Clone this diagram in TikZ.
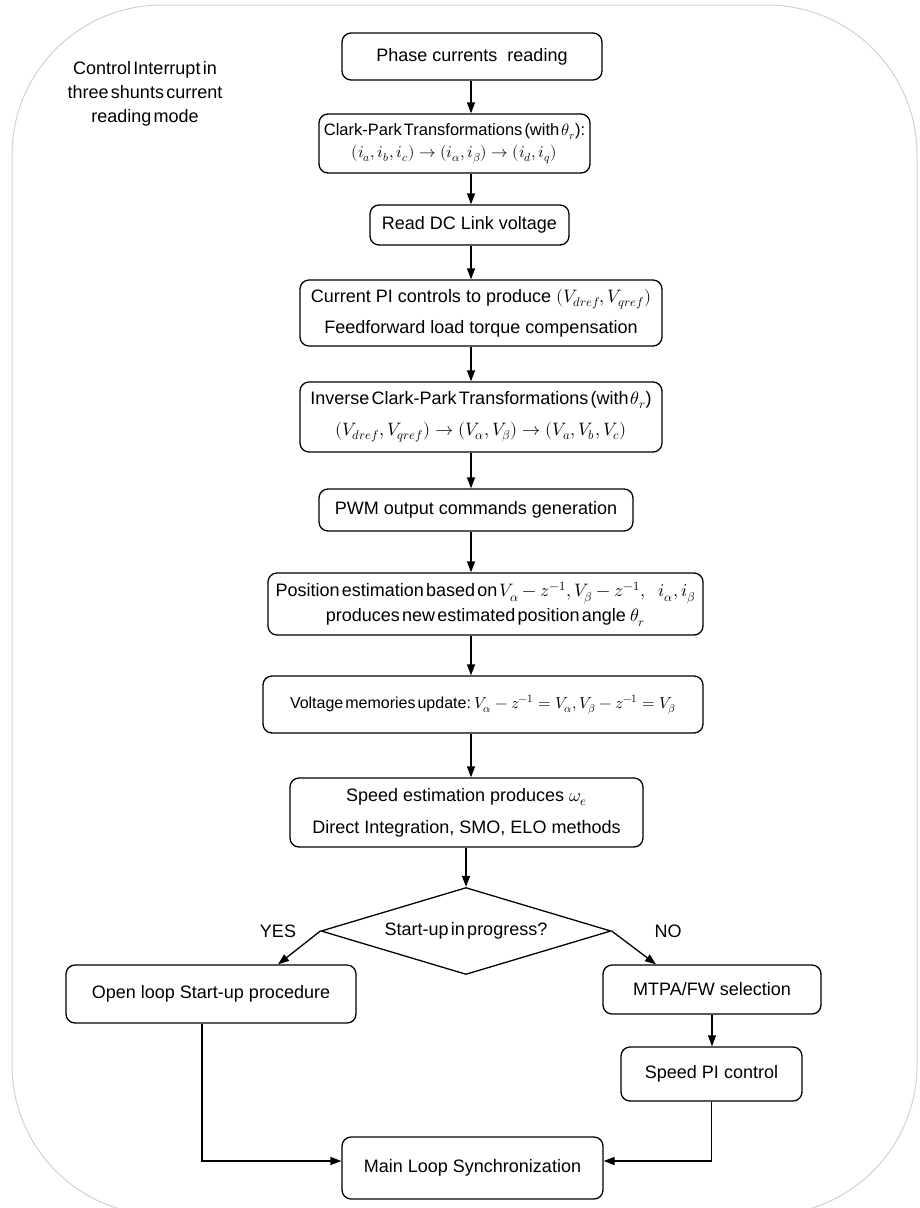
\documentclass[tikz,border=0pt]{standalone}
\usepackage{fontspec}
\usepackage{unicode-math}
\setmainfont{Liberation Sans}
\setmathfont{Latin Modern Math}
\newfontfamily\tightf[WordSpace=0.45]{Liberation Sans}
\usetikzlibrary{arrows.meta,shapes.geometric}
\begin{document}
\begin{tikzpicture}[x=1pt,y=-1pt,
  box/.style={draw, line width=1.3pt, rounded corners=9pt, inner sep=0pt, align=center, font=\fontsize{18}{24}\selectfont},
  arr/.style={line width=1.3pt, -{Triangle[length=11pt,width=8pt]}},
  lbl/.style={inner sep=0pt, align=center, font=\fontsize{18}{24}\selectfont}]
\useasboundingbox (0,0) rectangle (919,1208);
\begin{scope}
  \clip (0,0) rectangle (919,1208);
  \draw[black!18, line width=1pt, rounded corners=150pt] (12,5) rectangle (917,1215);
\end{scope}

\node[lbl, font=\fontsize{18}{24}\selectfont\tightf] (ctl) at (145,94) {Control Interrupt in\\three shunts current\\reading mode};

\node[box, minimum width=260pt, minimum height=47pt] (b1) at (472,56.5) {Phase currents\ \ reading};
\node[box, minimum width=271pt, minimum height=59pt, font=\fontsize{16.5}{22}\selectfont\tightf] (b2) at (454.5,143.5)
  {Clark-Park Transformations (with $\theta_r$):\\ $(i_a, i_b, i_c) \rightarrow (i_\alpha, i_\beta) \rightarrow (i_d, i_q)$};
\node[box, minimum width=199pt, minimum height=40pt] (b3) at (469.5,225) {Read DC Link voltage};
\node[box, minimum width=362pt, minimum height=66pt, font=\fontsize{18}{31}\selectfont] (b4) at (481,313)
  {Current PI controls to produce $(V_{dref}, V_{qref})$\\ Feedforward load torque compensation};
\node[box, minimum width=362pt, minimum height=70pt, font=\fontsize{18}{31}\selectfont\tightf] (b5) at (481,417)
  {Inverse Clark-Park Transformations (with $\theta_r$)\\ $(V_{dref}, V_{qref}) \rightarrow (V_\alpha, V_\beta) \rightarrow (V_a, V_b, V_c)$};
\node[box, minimum width=314pt, minimum height=42pt] (b6) at (476,510) {PWM output commands generation};
\node[box, minimum width=435pt, minimum height=62pt, font=\fontsize{18}{25}\selectfont\tightf] (b7) at (485.5,604)
  {Position estimation based on $V_\alpha - z^{-1}, V_\beta - z^{-1},\;\; i_\alpha, i_\beta$\\ produces new estimated position angle\ \ $\theta_r$};
\node[box, minimum width=440pt, minimum height=57pt, font=\fontsize{16}{22}\selectfont\tightf] (b8) at (483,704.5)
  {Voltage memories update: $V_\alpha - z^{-1} = V_\alpha, V_\beta - z^{-1} = V_\beta$};
\node[box, minimum width=353pt, minimum height=69pt, font=\fontsize{18}{32}\selectfont] (b9) at (466.5,812.5)
  {Speed estimation produces $\omega_e$\\ Direct Integration, SMO, ELO methods};

\node[draw, diamond, aspect=3.3, minimum width=290pt, minimum height=87pt, inner sep=0pt, line width=1.3pt,
  font=\fontsize{18}{24}\selectfont\tightf] (dia) at (466,931) {Start-up in progress?};
\node[lbl] (yes) at (278,931) {YES};
\node[lbl] (no) at (668,931) {NO};

\node[box, minimum width=290pt, minimum height=58pt] (open) at (211,994) {Open loop Start-up procedure};
\node[box, minimum width=218pt, minimum height=49pt] (mtpa) at (712,989.5) {MTPA/FW selection};
\node[box, minimum width=181pt, minimum height=54pt] (spi) at (711.5,1074) {Speed PI control};
\node[box, minimum width=261pt, minimum height=62pt] (main) at (472.5,1168) {Main Loop Synchronization};

\coordinate (col) at (471,0);
\draw[arr] (b1.south -| col) -- (b2.north -| col);
\draw[arr] (b2.south -| col) -- (b3.north -| col);
\draw[arr] (b3.south -| col) -- (b4.north -| col);
\draw[arr] (b4.south -| col) -- (b5.north -| col);
\draw[arr] (b5.south -| col) -- (b6.north -| col);
\draw[arr] (b6.south -| col) -- (b7.north -| col);
\draw[arr] (b7.south -| col) -- (b8.north -| col);
\draw[arr] (b8.south -| col) -- (b9.north -| col);
\draw[arr] (b9.south -| dia.north) -- (dia.north);
\draw[arr] (dia.west) -- ([xshift=67pt]open.north);
\draw[arr] (dia.east) -- ([xshift=-56pt]mtpa.north);
\draw[arr] (mtpa.south) -- (mtpa.south |- spi.north);
\draw[arr] ([xshift=-9pt]open.south) |- ([yshift=7pt]main.west);
\draw[arr] (spi.south) |- ([yshift=7pt]main.east);
\end{tikzpicture}
\end{document}
